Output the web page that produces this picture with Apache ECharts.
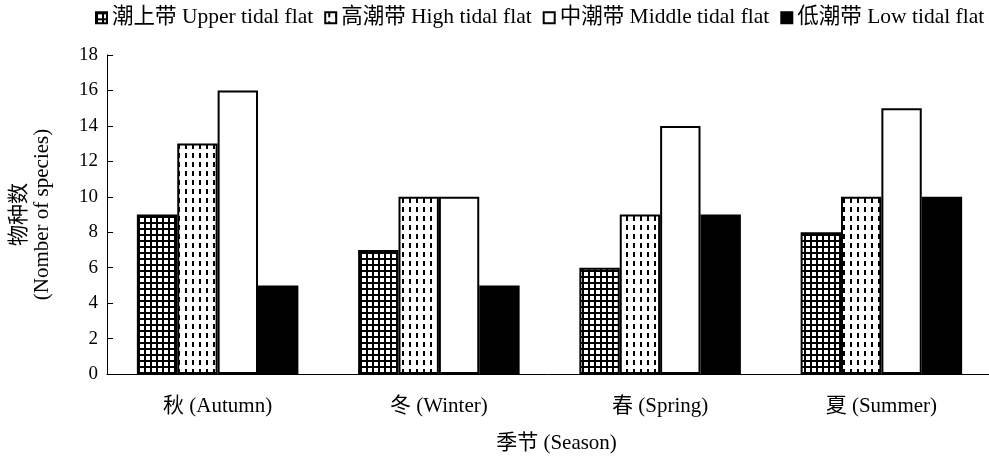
<!DOCTYPE html>
<html>
<head>
<meta charset="utf-8">
<script src="https://cdn.jsdelivr.net/npm/echarts@6/dist/echarts.min.js"></script>
<style>
  html, body { margin: 0; padding: 0; background: #fff; }
  #main { width: 989px; height: 460px; }
</style>
</head>
<body>
<div id="main"></div>
<script>
var seasons = ['秋 (Autumn)', '冬 (Winter)', '春 (Spring)', '夏 (Summer)'];
var zoneNames = ['潮上带 Upper tidal flat', '高潮带 High tidal flat', '中潮带 Middle tidal flat', '低潮带 Low tidal flat'];
var upperVals = [9, 7, 6, 8];
var highVals = [13, 10, 9, 10];
var middleVals = [16, 10, 14, 15];
var lowVals = [5, 5, 9, 10];

var fontFam = '"Liberation Serif", "Noto Sans CJK SC", serif';

// grid (checkered) fill
function gridPattern() {
    var c = document.createElement('canvas');
    c.width = 6; c.height = 6;
    var ctx = c.getContext('2d');
    ctx.fillStyle = '#fff';
    ctx.fillRect(0, 0, 6, 6);
    ctx.fillStyle = '#000';
    ctx.fillRect(0, 0, 6, 2);
    ctx.fillRect(0, 0, 2, 6);
    return c;
}
// vertical dashes fill
function dashPattern() {
    var c = document.createElement('canvas');
    c.width = 7; c.height = 9;
    var ctx = c.getContext('2d');
    ctx.fillStyle = '#fff';
    ctx.fillRect(0, 0, 7, 9);
    ctx.fillStyle = '#000';
    ctx.fillRect(3, 0, 2, 5);
    return c;
}

var fills = [
    {image: gridPattern(), repeat: 'repeat'},
    {image: dashPattern(), repeat: 'repeat'},
    '#ffffff',
    '#000000'
];
var vals = [upperVals, highVals, middleVals, lowVals];

var myChart = echarts.init(document.getElementById('main'));
var option = {
    backgroundColor: '#fff',
    animation: false,
    textStyle: { fontFamily: fontFam, color: '#000' },
    legend: {
        top: 2,
        left: 90,
        width: 920,
        itemWidth: 11,
        itemHeight: 11,
        itemGap: 11,
        icon: 'rect',
        textStyle: { fontSize: 21.5, fontFamily: fontFam, color: '#000' },
        data: zoneNames
    },
    grid: {
        left: 107,
        right: -3,
        top: 55,
        bottom: 86,
        outerBoundsMode: 'none'
    },
    xAxis: {
        type: 'category',
        data: seasons,
        name: '季节 (Season)',
        nameLocation: 'middle',
        nameGap: 59,
        nameTextStyle: { fontSize: 21, fontFamily: fontFam, color: '#000', padding: [0, 0, 0, 14] },
        axisLine: { lineStyle: { color: '#000', width: 1 } },
        axisTick: { inside: true, length: 6, lineStyle: { color: '#000' } },
        axisLabel: { margin: 22, fontSize: 21, fontFamily: fontFam, color: '#000' }
    },
    yAxis: {
        type: 'value',
        min: 0,
        max: 18,
        interval: 2,
        name: '物种数\n(Nomber of species)',
        nameLocation: 'middle',
        nameGap: 53,
        nameTextStyle: { fontSize: 21, fontFamily: fontFam, color: '#000', lineHeight: 23 },
        axisLine: { show: true, lineStyle: { color: '#000', width: 1 } },
        axisTick: { show: true, inside: true, length: 6, lineStyle: { color: '#000' } },
        axisLabel: { margin: 9, fontSize: 19, fontFamily: fontFam, color: '#000' },
        splitLine: { show: false }
    },
    series: zoneNames.map(function (nm, i) {
        return {
            name: nm,
            type: 'bar',
            data: vals[i],
            barGap: '0%',
            barCategoryGap: '27%',
            itemStyle: {
                color: fills[i],
                borderColor: '#000',
                borderWidth: 2
            }
        };
    })
};
myChart.setOption(option);
</script>
</body>
</html>
